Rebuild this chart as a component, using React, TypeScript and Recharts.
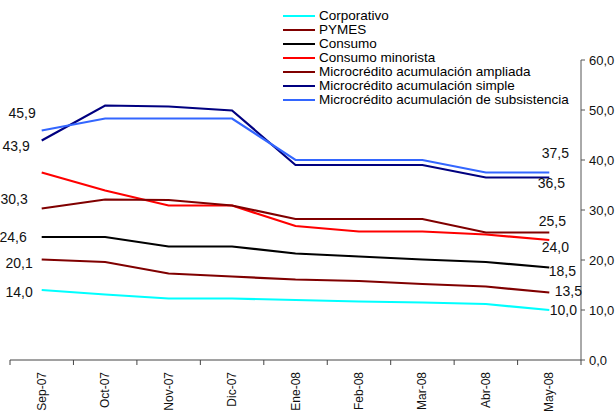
import { LineChart, Line, XAxis, YAxis, Legend, LabelList } from "recharts"

const months = ["Sep-07", "Oct-07", "Nov-07", "Dic-07", "Ene-08", "Feb-08", "Mar-08", "Abr-08", "May-08"]

const corporativo = [14.0, 13.1, 12.3, 12.3, 12.0, 11.7, 11.5, 11.2, 10.0]
const pymes = [20.1, 19.6, 17.3, 16.7, 16.1, 15.8, 15.2, 14.7, 13.5]
const consumo = [24.6, 24.6, 22.7, 22.7, 21.3, 20.7, 20.1, 19.6, 18.5]
const minorista = [37.5, 33.9, 30.9, 30.9, 26.8, 25.7, 25.7, 25.1, 24.0]
const ampliada = [30.3, 32.1, 32.0, 30.9, 28.2, 28.2, 28.2, 25.5, 25.5]
const simple = [43.9, 50.9, 50.7, 49.9, 39.0, 39.0, 39.0, 36.5, 36.5]
const subsistencia = [45.9, 48.3, 48.3, 48.3, 40.0, 40.0, 40.0, 37.5, 37.5]

const yTicks = [0, 10, 20, 30, 40, 50, 60]

const data = months.map((m, i) => ({
  month: m,
  corporativo: corporativo[i],
  pymes: pymes[i],
  consumo: consumo[i],
  minorista: minorista[i],
  ampliada: ampliada[i],
  simple: simple[i],
  subsistencia: subsistencia[i],
}))

// label offsets for first / last point: [dx, dy]
const series = [
  { key: "corporativo", name: "Corporativo", color: "#00FFFF", first: [-9, 2], last: [14, 0] },
  { key: "pymes", name: "PYMES", color: "#800000", first: [-9, 3.5], last: [19, -2] },
  { key: "consumo", name: "Consumo", color: "#000000", first: [-15, 0], last: [13, 3] },
  { key: "minorista", name: "Consumo minorista", color: "#FF0000", first: null, last: [6, 7] },
  { key: "ampliada", name: "Microcrédito acumulación ampliada", color: "#800000", first: [-14, -9.5], last: [3, -11.5] },
  { key: "simple", name: "Microcrédito acumulación simple", color: "#000080", first: [-12, 5.5], last: [2, 5.5] },
  { key: "subsistencia", name: "Microcrédito acumulación de subsistencia", color: "#3366FF", first: [-6, -18], last: [6, -20] },
]

const fmt = (v: number) => v.toFixed(1).replace(".", ",")

const HALF = 31.7

const MonthTick = (props: any) => {
  const { x, y, payload, index } = props
  const last = index === months.length - 1
  return (
    <g>
      <line x1={x - HALF} y1={y} x2={x - HALF} y2={y + 5} stroke="#444" />
      {last && <line x1={x + HALF} y1={y} x2={x + HALF} y2={y + 5} stroke="#444" />}
      <text
        x={x}
        y={y + 12}
        transform={`rotate(-90 ${x} ${y + 12})`}
        textAnchor="end"
        dominantBaseline="central"
        fontSize={12}
        fill="#111"
      >
        {payload.value}
      </text>
    </g>
  )
}

const makeLabel = (s: any) => (props: any) => {
  const { x, y, value, index } = props
  let off = null
  if (index === 0) off = s.first
  if (index === months.length - 1) off = s.last
  if (!off) return null
  const anchor = index === 0 ? "end" : "middle"
  return (
    <text x={x + off[0]} y={y + off[1]} textAnchor={anchor} dominantBaseline="central" fontSize={14} fill="#111">
      {fmt(value)}
    </text>
  )
}

const LegendBox = () => (
  <div style={{ fontSize: 13.5, lineHeight: "14px", color: "#000" }}>
    {series.map((s) => (
      <div key={s.key} style={{ display: "flex", alignItems: "center", height: 14 }}>
        <div style={{ width: 32, height: 2.5, background: s.color, marginRight: 4 }}></div>
        <span>{s.name}</span>
      </div>
    ))}
  </div>
)

export default function App() {
  return (
    <div style={{ width: 616, height: 413, background: "#fff", fontFamily: "'Liberation Sans', Arial, sans-serif", position: "relative" }}>
      <style>{"body{margin:0}"}</style>
      <LineChart width={616} height={413} data={data} margin={{ top: 60, right: 0, bottom: 0, left: 10 }}>
        <XAxis
          dataKey="month"
          height={53}
          padding={{ left: HALF, right: HALF }}
          stroke="#444"
          tickLine={false}
          tickSize={0}
          tickMargin={0}
          interval={0}
          tick={<MonthTick />}
        />
        <YAxis
          orientation="right"
          width={35}
          domain={[0, 60]}
          ticks={yTicks}
          tickFormatter={fmt}
          stroke="#555"
          tickSize={4}
          tickMargin={4}
          tick={{ fontSize: 13, fill: "#111" }}
          allowDataOverflow
        />
        <Legend
          layout="vertical"
          align="center"
          verticalAlign="middle"
          wrapperStyle={{ top: 9, left: 283, width: "auto", height: "auto" }}
          content={<LegendBox />}
        />
        {series.map((s) => (
          <Line
            key={s.key}
            dataKey={s.key}
            name={s.name}
            stroke={s.color}
            strokeWidth={2.2}
            dot={false}
            isAnimationActive={false}
          >
            <LabelList dataKey={s.key} content={makeLabel(s)} />
          </Line>
        ))}
      </LineChart>
    </div>
  )
}
